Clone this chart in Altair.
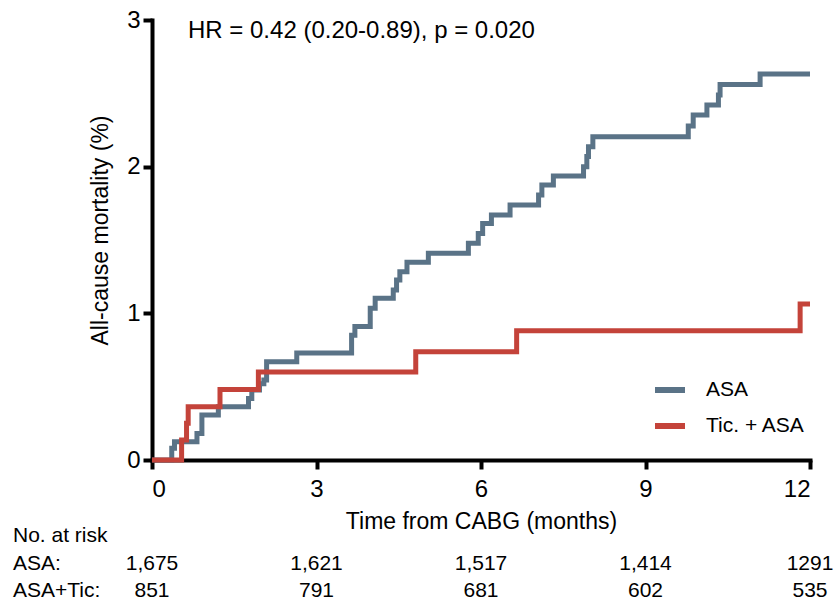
import altair as alt
import pandas as pd

# ---- data ----
asa_time = [0, 0.36, 0.41, 0.82, 0.91, 1.21, 1.76, 1.82, 1.96, 2.04, 2.09, 2.64,
            3.64, 3.70, 3.98, 4.07, 4.40, 4.46, 4.52, 4.65, 5.04, 5.77, 5.95, 6.03,
            6.19, 6.53, 7.05, 7.11, 7.32, 7.87, 7.93, 7.96, 8.04, 9.78, 9.87, 10.12,
            10.33, 10.36, 11.09, 12.0]
asa_mort = [0, 0.08, 0.125, 0.18, 0.307, 0.363, 0.42, 0.477, 0.52, 0.545, 0.67, 0.73,
            0.85, 0.91, 1.034, 1.102, 1.159, 1.227, 1.284, 1.348, 1.409, 1.477, 1.545, 1.613,
            1.670, 1.738, 1.806, 1.875, 1.936, 2.0, 2.07, 2.136, 2.204, 2.277, 2.352, 2.42,
            2.488, 2.56, 2.631, 2.631]
tic_time = [0, 0.54, 0.63, 0.66, 1.24, 1.94, 4.81, 6.65, 11.82, 12.0]
tic_mort = [0, 0.136, 0.25, 0.363, 0.48, 0.60, 0.738, 0.882, 1.063, 1.063]

series_names = ["ASA", "Tic. + ASA"]
series_colors = ["#5a7387", "#c4433a"]

risk_months = [0, 3, 6, 9, 12]
risk_asa = ["1,675", "1,621", "1,517", "1,414", "1291"]
risk_tic = ["851", "791", "681", "602", "535"]
risk_row_labels = ["No. at risk", "ASA:", "ASA+Tic:"]

hr_text = ["HR = 0.42 (0.20-0.89), p = 0.020"]

FONT = "Liberation Sans, Arial, Helvetica, sans-serif"

curves = pd.concat([
    pd.DataFrame({"time": asa_time, "mort": asa_mort, "group": series_names[0], "ord": 0}),
    pd.DataFrame({"time": tic_time, "mort": tic_mort, "group": series_names[1], "ord": 1}),
], ignore_index=True)

risk = pd.DataFrame({"month": risk_months, "asa": risk_asa, "tic": risk_tic})

xscale = alt.Scale(domain=[0, 12], nice=False, zero=False)
yscale = alt.Scale(domain=[0, 3], nice=False)

axis_style = dict(grid=False, domainColor="black", domainWidth=4, tickColor="black",
                  tickWidth=4, tickSize=9, labelFontSize=24, labelColor="black",
                  labelFont=FONT, titleFontSize=23, titleFontWeight="normal",
                  titleColor="black", titleFont=FONT, domainCap="square")

lines = alt.Chart(curves).mark_line(interpolate="step-after", strokeWidth=5).encode(
    x=alt.X("time:Q", scale=xscale,
            axis=alt.Axis(values=risk_months, title="Time from CABG (months)",
                          titleY=68, titleBaseline="alphabetic", labelPadding=8,
                          format="d", **axis_style)),
    y=alt.Y("mort:Q", scale=yscale,
            axis=alt.Axis(values=[0, 1, 2, 3], title="All-cause mortality (%)",
                          titleX=-52, titleY=210, titleBaseline="middle",
                          titleAngle=270, labelPadding=3, format="d", **axis_style)),
    color=alt.Color("group:N",
                    scale=alt.Scale(domain=series_names, range=series_colors),
                    legend=alt.Legend(title=None, orient="none", legendX=500, legendY=352,
                                      symbolType="stroke", symbolSize=900,
                                      symbolStrokeWidth=6, labelFontSize=21,
                                      labelFont=FONT, labelColor="black",
                                      labelOffset=18, rowPadding=6, padding=0)),
    order=alt.Order("ord:Q"),
)

hr = alt.Chart(pd.DataFrame({"t": hr_text})).mark_text(
    align="left", baseline="alphabetic", fontSize=24, font=FONT, color="black"
).encode(text="t:N", x=alt.value(36), y=alt.value(18))

row_lab = alt.Chart(pd.DataFrame({"lab": risk_row_labels, "row": [0, 1, 2]})).mark_text(
    align="left", baseline="alphabetic", fontSize=21, font=FONT, color="black"
).encode(
    text="lab:N",
    x=alt.value(-139),
    y=alt.Y("row:Q", scale=alt.Scale(domain=[0, 2], range=[522, 577]), axis=None),
)

asa_txt = alt.Chart(risk).mark_text(
    align="center", baseline="alphabetic", fontSize=21, font=FONT, color="black"
).encode(x=alt.X("month:Q", scale=xscale), y=alt.value(550), text="asa:N")

tic_txt = alt.Chart(risk).mark_text(
    align="center", baseline="alphabetic", fontSize=21, font=FONT, color="black"
).encode(x=alt.X("month:Q", scale=xscale), y=alt.value(577), text="tic:N")

chart = alt.layer(lines, hr, row_lab, asa_txt, tic_txt).resolve_scale(y="independent").properties(
    width=658, height=440,
    autosize=alt.AutoSizeParams(type="none"),
    padding={"left": 152, "top": 20, "right": 26, "bottom": 141},
).configure_view(stroke=None).configure_axis(**axis_style)

chart.save("out.html", embed_options={"renderer": "svg", "actions": False})
